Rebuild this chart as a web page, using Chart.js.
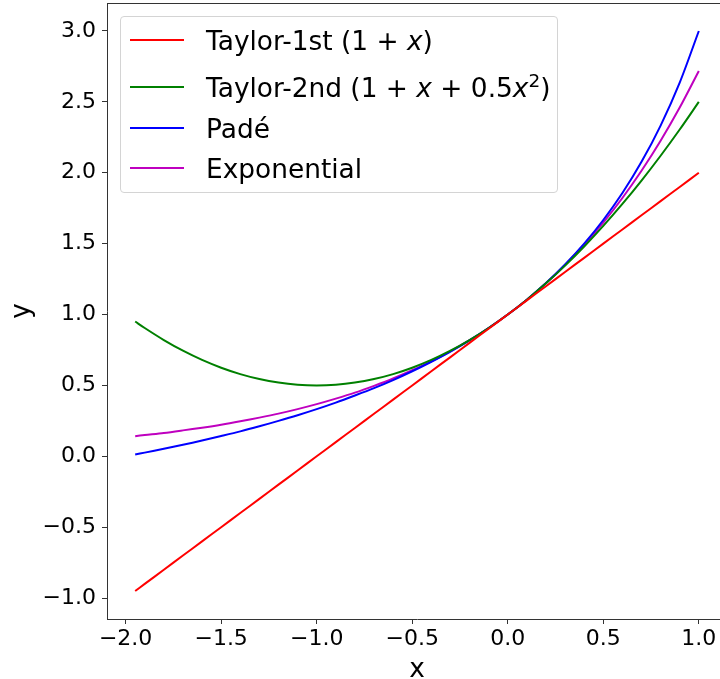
<!DOCTYPE html>
<html>
<head>
<meta charset="utf-8">
<script src="https://cdn.jsdelivr.net/npm/chart.js@4.4.1/dist/chart.umd.min.js"></script>
<style>
  html, body { margin: 0; padding: 0; background: #fff; overflow: hidden; }
  #wrap { position: relative; width: 728px; height: 679px; }
  #legend {
    position: absolute; left: 120px; top: 16px; width: 438px;
    box-sizing: border-box; border: 1px solid #d4d4d4; border-radius: 4px;
    background: rgba(255, 255, 255, 0.8);
    font-family: "DejaVu Sans", sans-serif; font-size: 26.4px; color: #000;
    padding: 3px 0 4px 0;
  }
  .row { height: 40px; display: flex; align-items: center; white-space: nowrap; }
  .row:nth-child(2) { margin-top: 7px; }
  .row:nth-child(3) { margin-top: 1px; }
  .swatch { width: 54px; height: 2px; margin-left: 9px; margin-right: 22px; flex: none; }
  .row sup { font-size: 70%; line-height: 0; vertical-align: 0.55em; }
</style>
</head>
<body>
<div id="wrap">
  <canvas id="myChart" width="728" height="679"></canvas>
  <div id="legend"></div>
</div>
<script>
const xs = [-1.95, -1.9, -1.8, -1.7, -1.6, -1.5, -1.4, -1.3, -1.2, -1.1, -1.0,
  -0.9, -0.8, -0.7, -0.6, -0.5, -0.4, -0.3, -0.2, -0.1, 0.0,
  0.1, 0.2, 0.3, 0.4, 0.5, 0.6, 0.7, 0.8, 0.9, 1.0];

const taylor1 = [-0.95, -0.9, -0.8, -0.7, -0.6, -0.5, -0.4, -0.3, -0.2, -0.1, 0.0,
  0.1, 0.2, 0.3, 0.4, 0.5, 0.6, 0.7, 0.8, 0.9, 1.0,
  1.1, 1.2, 1.3, 1.4, 1.5, 1.6, 1.7, 1.8, 1.9, 2.0];

const taylor2 = [0.951, 0.905, 0.82, 0.745, 0.68, 0.625, 0.58, 0.545, 0.52, 0.505, 0.5,
  0.505, 0.52, 0.545, 0.58, 0.625, 0.68, 0.745, 0.82, 0.905, 1.0,
  1.105, 1.22, 1.345, 1.48, 1.625, 1.78, 1.945, 2.12, 2.305, 2.5];

const pade = [0.013, 0.026, 0.053, 0.081, 0.111, 0.143, 0.176, 0.212, 0.25, 0.29, 0.333,
  0.379, 0.429, 0.481, 0.538, 0.6, 0.667, 0.739, 0.818, 0.905, 1.0,
  1.105, 1.222, 1.353, 1.5, 1.667, 1.857, 2.077, 2.333, 2.636, 3.0];

const expo = [0.142, 0.15, 0.165, 0.183, 0.202, 0.223, 0.247, 0.273, 0.301, 0.333, 0.368,
  0.407, 0.449, 0.497, 0.549, 0.607, 0.67, 0.741, 0.819, 0.905, 1.0,
  1.105, 1.221, 1.35, 1.492, 1.649, 1.822, 2.014, 2.226, 2.46, 2.718];

const xTicks = [-2.0, -1.5, -1.0, -0.5, 0.0, 0.5, 1.0];
const yTicks = [-1.0, -0.5, 0.0, 0.5, 1.0, 1.5, 2.0, 2.5, 3.0];

const seriesNames = ["Taylor-1st (1 + x)", "Taylor-2nd (1 + x + 0.5x^2)", "Padé", "Exponential"];
const legendHtml = [
  "Taylor-1st (1 + <i>x</i>)",
  "Taylor-2nd (1 + <i>x</i> + 0.5<i>x</i><sup>2</sup>)",
  "Padé",
  "Exponential"
];
const seriesColors = ["#ff0000", "#008000", "#0000ff", "#bf00bf"];
const seriesData = [taylor1, taylor2, pade, expo];

const FONT = "'DejaVu Sans', sans-serif";
const fmt = (v) => v.toFixed(1).replace("-", "\u2212");

// top spine, matplotlib style box
const frame = {
  id: "frame",
  afterDraw(chart) {
    const { ctx, chartArea: a } = chart;
    ctx.save();
    ctx.strokeStyle = "#333";
    ctx.lineWidth = 1;
    ctx.beginPath();
    ctx.moveTo(a.left, a.top + 0.5);
    ctx.lineTo(a.right, a.top + 0.5);
    ctx.moveTo(a.right - 0.5, a.top);
    ctx.lineTo(a.right - 0.5, a.bottom);
    ctx.stroke();
    ctx.restore();
  },
};

const datasets = seriesData.map((ys, i) => ({
  label: seriesNames[i],
  data: xs.map((x, j) => ({ x: x, y: ys[j] })),
  borderColor: seriesColors[i],
  borderWidth: 2,
  pointRadius: 0,
  fill: false,
  tension: 0.3,
}));

const ctx = document.getElementById("myChart").getContext("2d");
const chart = new Chart(ctx, {
  type: "line",
  data: { datasets: datasets },
  plugins: [frame],
  options: {
    responsive: false,
    animation: false,
    devicePixelRatio: 1,
    layout: { padding: { top: 3, right: 1, left: 0, bottom: 0 } },
    plugins: { legend: { display: false }, tooltip: { enabled: false } },
    scales: {
      x: {
        type: "linear",
        min: -2.0975,
        max: 1.1475,
        afterBuildTicks: (s) => { s.ticks = xTicks.map((v) => ({ value: v })); },
        afterFit: (s) => { s.height = 60; s.paddingLeft = 0; s.paddingRight = 0; },
        grid: { drawOnChartArea: false, drawTicks: true, tickLength: 5, color: "#333" },
        border: { display: true, color: "#333", width: 1 },
        ticks: { autoSkip: false, maxRotation: 0, padding: 2, color: "#000",
          font: { family: FONT, size: 22 }, callback: (v) => fmt(v) },
        title: { display: true, text: "x", color: "#000",
          font: { family: FONT, size: 26.4, lineHeight: 0.7 }, padding: { top: 0, bottom: 0 } },
      },
      y: {
        type: "linear",
        min: -1.1475,
        max: 3.1975,
        afterBuildTicks: (s) => { s.ticks = yTicks.map((v) => ({ value: v })); },
        afterFit: (s) => { s.width = 107; s.paddingTop = 0; s.paddingBottom = 0; },
        grid: { drawOnChartArea: false, drawTicks: true, tickLength: 5, color: "#333" },
        border: { display: true, color: "#333", width: 1 },
        ticks: { autoSkip: false, padding: 6, color: "#000",
          font: { family: FONT, size: 22 }, callback: (v) => fmt(v) },
        title: { display: true, text: "y", color: "#000",
          font: { family: FONT, size: 26.4, lineHeight: 1 }, padding: { top: 9, bottom: 0 } },
      },
    },
  },
});

/* legend built from the series */
const legend = document.getElementById("legend");
seriesColors.forEach((c, i) => {
  const row = document.createElement("div");
  row.className = "row";
  row.innerHTML = '<span class="swatch" style="background:' + c + '"></span><span>' + legendHtml[i] + "</span>";
  legend.appendChild(row);
});
</script>
</body>
</html>
